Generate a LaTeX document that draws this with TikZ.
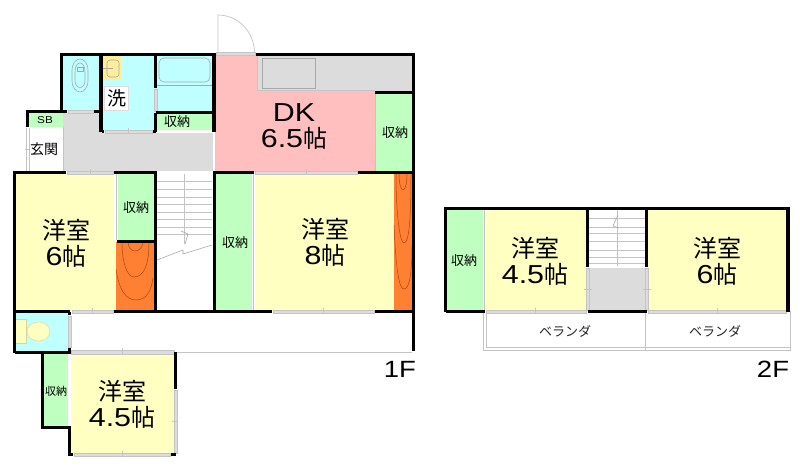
\documentclass[tikz,border=0pt]{standalone}
\usepackage{fontspec}
\setmainfont[FakeStretch=1.17]{Liberation Sans}
\newfontfamily\jp{Noto Sans CJK JP}
\definecolor{roomyellow}{HTML}{FFFFC2}
\definecolor{wetcyan}{HTML}{BFFFFF}
\definecolor{closetgreen}{HTML}{BFFFBF}
\definecolor{dkpink}{HTML}{FFBFBF}
\definecolor{floororange}{HTML}{FF7F33}
\definecolor{floorgray}{HTML}{DCDCDC}
\definecolor{linegray}{HTML}{C4C4C4}
\definecolor{fixgray}{HTML}{A8A8A8}
\definecolor{fixyellow}{HTML}{FFEE99}
\definecolor{fixtan}{HTML}{D8D49A}
\definecolor{grainbrown}{HTML}{A84A10}
\tikzset{
  wall/.style={line width=3.2pt, line cap=square},
  opening/.style={draw=linegray, fill=floorgray, line width=0.4pt},
  thin gray/.style={draw=linegray, line width=0.7pt},
  fixture/.style={draw=fixgray, line width=0.6pt},
  grain/.style={draw=grainbrown, line width=0.5pt},
  roomlabel/.style={align=center, inner sep=0pt, font=\fontsize{26}{26}\selectfont},
  closetlabel/.style={inner sep=0pt, font=\fontsize{13}{13}\jp},
  smalllabel/.style={inner sep=0pt, font=\fontsize{13}{13}\jp, text=black!85},
  floorlabel/.style={inner sep=0pt, font=\fontsize{23.5}{24}\selectfont}
}
\newcommand{\jpsize}{\fontsize{24}{26}\jp}
\begin{document}
\begin{tikzpicture}[x=1pt,y=-1pt]
    \useasboundingbox (0,0) rectangle (800,471);

    % 1F floors
    \fill[wetcyan] (61,54) rectangle (214,111);
    \fill[wetcyan] (101,54) rectangle (155,132);
    \fill[wetcyan] (15,312) rectangle (69,352);
    \fill[closetgreen] (28,112) rectangle (63,127);
    \fill[closetgreen] (155,112) rectangle (214,130);
    \fill[closetgreen] (376,92) rectangle (413,172);
    \fill[closetgreen] (118,173) rectangle (155,241);
    \fill[closetgreen] (214,173) rectangle (252,311);
    \fill[closetgreen] (43,353) rectangle (68,428);
    \fill[floorgray] (63,112) rectangle (101,171);
    \fill[floorgray] (63,133) rectangle (213,171);
    \fill[dkpink] (215,55) rectangle (376,172);
    \fill[floorgray] (257,55) rectangle (413,91);
    \draw[thin gray] (257,55) -- (257,90.5) -- (375,90.5);
    \fill[roomyellow] (15,173) rectangle (115,311);
    \fill[roomyellow] (255,173) rectangle (394,311);
    \fill[roomyellow] (71,353) rectangle (175,455);
    \fill[floororange] (116,242) rectangle (154,311);
    \fill[floororange] (394,173) rectangle (413,311);

    % Fixtures
    \draw[fixture] (72,71) .. controls (72,55) and (88,55) .. (88,71) -- (88,80) .. controls (88,96) and (72,96) .. (72,80) -- cycle;
    \draw[fixture] (75,72) .. controls (75,60) and (85,60) .. (85,72) -- (85,80) .. controls (85,90) and (75,90) .. (75,80) -- cycle;
    \draw[fixture] (77,67) rectangle (83,71);
    \fill[fixyellow] (103,56) rectangle (121,80);
    \draw[fixture, fill=fixyellow, rounded corners=3pt] (107,60) rectangle (119,77);
    \draw[fixture] (103,68) -- (113,68);
    \draw[fixture, rounded corners=5pt] (159,58) rectangle (210,82);
    \draw[fixture] (157,85) -- (212,85);
    \draw[fixture, fill=floorgray] (262,58) rectangle (315,88);
    \draw[draw=fixtan, fill=roomyellow] (38.5,331.5) ellipse[x radius=11.5, y radius=9.5];
    \draw[draw=fixtan, fill=roomyellow] (16,319.5) -- (26.5,319.5) -- (26.5,343) -- (16,343);

    % Wood grain
    \draw[grain] (122,243) .. controls (122,262) and (127,277) .. (134,277) .. controls (145,277) and (149,262) .. (149,243);
    \draw[grain] (128,243) .. controls (129,248) and (131,251) .. (135,251) .. controls (139,251) and (142,248) .. (143,243);
    \draw[grain] (116,269) .. controls (119,290) and (126,300) .. (136,300) .. controls (146,300) and (151,292) .. (153,278);
    \draw[grain] (399,174) .. controls (399,184) and (401,190) .. (403,190) .. controls (405,190) and (407,184) .. (407,174);
    \draw[grain] (396,174) .. controls (396,215) and (400,243) .. (404,243) .. controls (409,243) and (411,220) .. (411,174);
    \draw[grain] (394,225) .. controls (396,270) and (399,289) .. (404,289) .. controls (410,289) and (412,270) .. (412,245);

    % Stairs 1F
    \foreach \yy in {181,189,197,204,212,219,227,234}
        \draw[thin gray] (157,\yy) -- (212,\yy);
    \draw[thin gray] (184,174) -- (184,244);
    \draw[fixture] (181,231) -- (188,234) -- (185,244);
    \draw[fixture] (157,260) -- (183,250) -- (183,254) -- (212,245);

    % Openings 1F
    \draw[thin gray] (218,53) -- (218,15) arc[start angle=-90, end angle=0, x radius=36.5, y radius=38];
    \draw[opening] (216,52.5) rectangle (255,55.5);
    \draw[opening] (68,110) rectangle (93,113);
    \draw[opening] (105,130.5) rectangle (152,133) (128,128) -- (128,133);
    \draw[opening] (154,89) rectangle (157,111);
    \draw[opening] (67,171) rectangle (113,174) (90,169) -- (90,175);
    \draw[opening] (255,171) rectangle (357,174) (306,169) -- (306,175);
    \draw[opening] (72,310) rectangle (113,313) (92,308) -- (92,314);
    \draw[opening] (273,310) rectangle (374,313) (323,308) -- (323,314);
    \draw[opening] (68,316) rectangle (71,347);
    \draw[opening] (71,350) rectangle (174,354) (122,348) -- (122,354);
    \draw[opening] (74,453) rectangle (170,456) (122,451) -- (122,457);
    \draw[opening] (174,390) rectangle (177,453) (172,421) -- (178,421);
    \draw[thin gray] (177,352) -- (412,352);
    \draw[thin gray] (26,128) -- (26,171) (29,128) -- (29,171) (63,127) -- (63,171) (25,149) -- (30,149);
    \draw[line width=2pt, white] (115,174) -- (115,241);
    \draw[thin gray] (116.5,174) -- (116.5,240);
    \draw[thin gray] (253.5,174) -- (253.5,310) (375.5,94) -- (375.5,171);
    \fill[white] (155,130.5) rectangle (212,133);

    % Walls 1F
    \draw[wall] (61.5,111.5) -- (61.5,54.5) -- (214,54.5) -- (214,132);
    \draw[wall] (255.5,54.5) -- (413.5,54.5) -- (413.5,351);
    \draw[wall] (101,54.5) -- (101,131.5);
    \draw[wall] (155.5,54.5) -- (155.5,88);
    \draw[wall] (155.5,112.5) -- (155.5,131.5);
    \draw[wall] (155.5,112.5) -- (214,112.5);
    \draw[wall] (374.5,92.5) -- (413.5,92.5);
    \draw[wall] (27.5,127) -- (27.5,111.5) -- (67,111.5);
    \draw[wall] (94,111.5) -- (100,111.5);
    \draw[wall] (102,131.5) -- (104,131.5);
    \draw[wall] (153,131.5) -- (155.5,131.5);
    \draw[wall] (14.5,352.5) -- (14.5,172.5) -- (66,172.5);
    \draw[wall] (114,172.5) -- (155.5,172.5) -- (155.5,311.5);
    \draw[wall] (214.5,311.5) -- (214.5,172.5) -- (254,172.5);
    \draw[wall] (358,172.5) -- (413.5,172.5);
    \draw[wall] (117,241.5) -- (155.5,241.5);
    \draw[wall] (14.5,311.5) -- (69.5,311.5);
    \draw[wall] (114,311.5) -- (272,311.5);
    \draw[wall] (375,311.5) -- (413.5,311.5);
    \draw[wall] (69.5,311.5) -- (69.5,315);
    \draw[wall] (69.5,348) -- (69.5,352.5) -- (14.5,352.5);
    \draw[wall] (42.5,353) -- (42.5,427.5) -- (69.5,427.5) -- (69.5,454.5) -- (73,454.5);
    \draw[wall] (171,454.5) -- (175.5,454.5);
    \draw[wall] (175.5,352) -- (175.5,389);

    % 2F floors
    \fill[closetgreen] (446,209) rectangle (483,311);
    \fill[roomyellow] (486,209) rectangle (586,311);
    \fill[roomyellow] (648,209) rectangle (788,311);
    \fill[floorgray] (589,268) rectangle (645,311);

    % Stairs 2F
    \foreach \yy in {218,227,233,241,250,257,263}
        \draw[thin gray] (589,\yy) -- (645,\yy);
    \draw[thin gray] (617,209) -- (617,266);
    \draw[fixture] (619,228) -- (613,226) -- (618,215);

    % Balcony and openings 2F
    \draw[thin gray] (483,311) -- (483,350) -- (790,350) -- (790,311);
    \draw[thin gray] (486,313) -- (486,347) -- (790,347);
    \draw[thin gray] (645,313) -- (645,350);
    \draw[thin gray] (484,209) -- (484,310);
    \draw[opening] (486,310) rectangle (586,313) (535,308) -- (535,314);
    \draw[opening] (648,310) rectangle (786,313) (717,308) -- (717,314);
    \draw[opening] (586,268) rectangle (589,310) (584,289) -- (592,289);
    \draw[opening] (645,268) rectangle (648,310) (643,289) -- (651,289);

    % Walls 2F
    \draw[wall] (445.5,311.5) -- (445.5,208.5) -- (788,208.5) -- (788,311.5);
    \draw[wall] (445.5,311.5) -- (485,311.5);
    \draw[wall] (587.5,311.5) -- (646.5,311.5);
    \draw[wall] (587.5,208.5) -- (587.5,267);
    \draw[wall] (646.5,208.5) -- (646.5,267);

    % Labels 1F
    \node[roomlabel] (dkroom) at (294,127) {DK\\6.5{\jpsize 帖}};
    \node[roomlabel] (bedsix) at (66,243) {{\jpsize 洋室}\\6{\jpsize 帖}};
    \node[roomlabel] (bedeight) at (325,242) {{\jpsize 洋室}\\8{\jpsize 帖}};
    \node[roomlabel] (bedfour) at (122,404) {{\jpsize 洋室}\\4.5{\jpsize 帖}};
    \node[closetlabel] (closetdk) at (395,133) {収納};
    \node[closetlabel] (closetbath) at (177,122) {収納};
    \node[closetlabel] (closetsix) at (136,208) {収納};
    \node[closetlabel] (closeteight) at (235,243) {収納};
    \node[inner sep=0pt, font=\fontsize{11}{11}\jp] (closetfour) at (56,391) {収納};
    \node[fill=white, draw=floorgray, line width=0.4pt, minimum size=24pt, inner sep=0pt, font=\fontsize{19}{19}\jp] (wash) at (116.5,98.5) {洗};
    \node[inner sep=0pt, font=\fontsize{14}{14}\jp] (entry) at (44,149) {玄関};
    \node[inner sep=0pt, font=\fontsize{10}{10}\selectfont] (shoebox) at (45,120) {SB};
    \node[floorlabel] (firstfloor) at (400,369) {1F};

    % Labels 2F
    \node[closetlabel] (closetup) at (464,261) {収納};
    \node[roomlabel] (upfour) at (535,261) {{\jpsize 洋室}\\4.5{\jpsize 帖}};
    \node[roomlabel] (upsix) at (717,261) {{\jpsize 洋室}\\6{\jpsize 帖}};
    \node[smalllabel] (balconyleft) at (565,331) {ベランダ};
    \node[smalllabel] (balconyright) at (715,331) {ベランダ};
    \node[floorlabel] (secondfloor) at (773,369) {2F};
\end{tikzpicture}
\end{document}
